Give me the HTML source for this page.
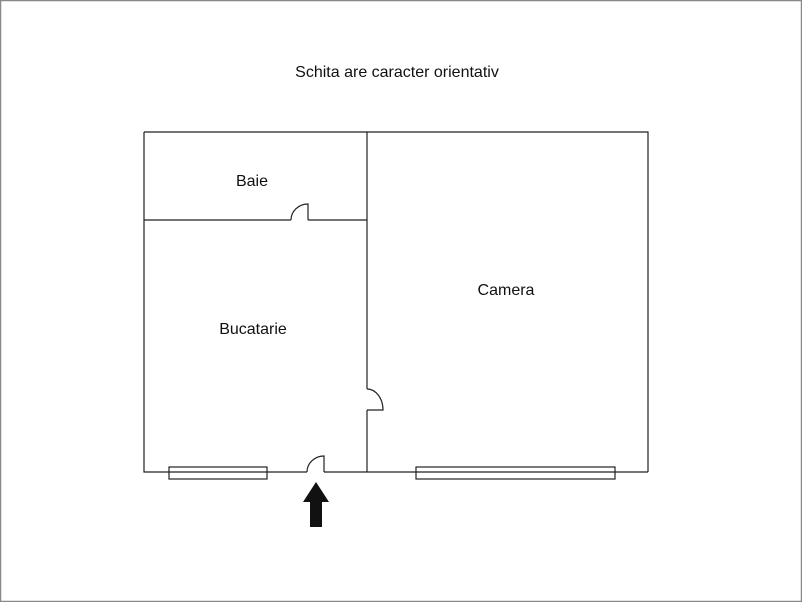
<!DOCTYPE html>
<html><head><meta charset="utf-8"><style>
html,body{margin:0;padding:0;background:#fff}
svg{display:block}
text{font-family:"Liberation Sans",sans-serif;fill:#111}
</style></head><body>
<svg width="802" height="602" viewBox="0 0 802 602" xmlns="http://www.w3.org/2000/svg">
<rect x="0.5" y="0.5" width="801" height="601" fill="#fff" stroke="#888" stroke-width="1.5"/>
<text x="397" y="77" font-size="16" text-anchor="middle">Schita are caracter orientativ</text>
<g fill="none" stroke="#222" stroke-width="1.2">
<!-- outer walls -->
<path d="M144,132 H648 V472"/>
<path d="M144,132 V472 H307"/>
<path d="M324,472 H648"/>
<!-- middle wall -->
<path d="M367,132 V389"/>
<path d="M367,410 V472"/>
<!-- right door -->
<path d="M367,410 H383 A16,21 0 0 0 367,389"/>
<!-- baie wall -->
<path d="M144,220 H291"/>
<path d="M308,220 H367"/>
<path d="M291,220 A17,16 0 0 1 308,204 V220"/>
<!-- entrance door -->
<path d="M307,472 A17,16 0 0 1 324,456 V472"/>
<!-- windows -->
<rect x="169" y="467" width="98" height="12"/>
<rect x="416" y="467" width="199" height="12"/>
</g>
<polygon points="316,482 329,502 322,502 322,527 310,527 310,502 303,502" fill="#111"/>
<text x="252" y="186" font-size="16" text-anchor="middle">Baie</text>
<text x="253" y="334" font-size="16" text-anchor="middle">Bucatarie</text>
<text x="506" y="295" font-size="16" text-anchor="middle">Camera</text>
</svg>
</body></html>
